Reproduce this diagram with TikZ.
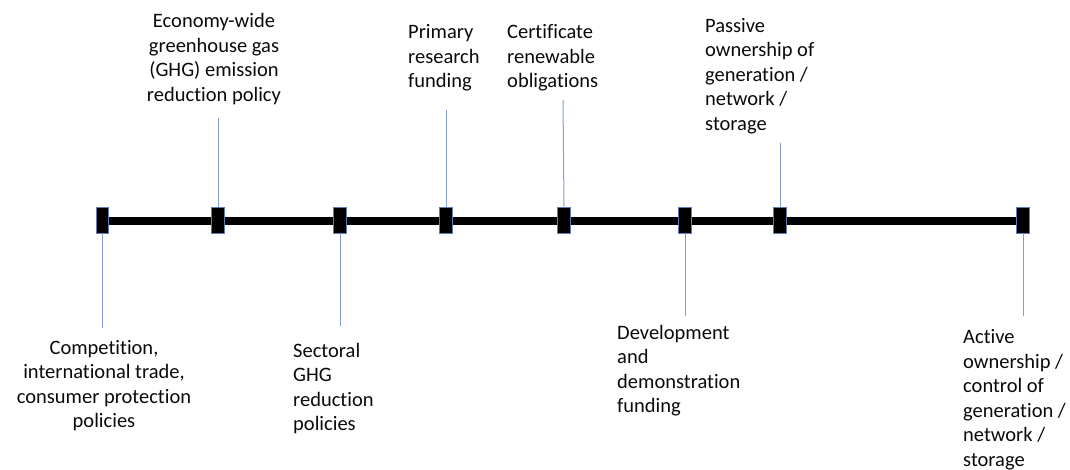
\documentclass[tikz,border=0pt]{standalone}
\usepackage{fontspec}
\setmainfont{Carlito}[Ligatures=NoCommon]
\definecolor{tickedge}{RGB}{96,124,178}
\definecolor{leader}{RGB}{128,158,214}
\definecolor{labeltext}{RGB}{10,10,10}
\begin{document}
\begin{tikzpicture}[x=1pt,y=-1pt,
  tick/.style={rectangle,draw=tickedge,line width=0.9pt,fill=black,
    minimum width=12.5pt,minimum height=26pt,inner sep=0pt},
  leaderline/.style={draw=leader,line width=1pt},
  lbl/.style={font=\fontsize{20.5}{24.5}\selectfont,text=labeltext,inner sep=0pt},
  % base anchor of a multi-line label sits on its last baseline
  lblL/.style={lbl,align=left,anchor=base west},
  lblC/.style={lbl,align=center,anchor=base}]
\useasboundingbox (0,0) rectangle (1070,470);

% timeline axis
\coordinate (axL) at (97,221);
\coordinate (axR) at (1023,221);
\draw[line width=8pt] (axL) -- (axR);

% tick marks along the axis
\node[tick] (t1) at (102.5,220) {};
\node[tick] (t2) at (218,220) {};
\node[tick] (t3) at (340,220) {};
\node[tick] (t4) at (446,220) {};
\node[tick] (t5) at (564,220) {};
\node[tick] (t6) at (685,220) {};
\node[tick] (t7) at (780,220) {};
\node[tick] (t8) at (1023,220) {};

% leader line ends
\coordinate (e1) at (102.5,328);
\coordinate (e2) at (218,118);
\coordinate (e3) at (340,326);
\coordinate (e4) at (446,110);
\coordinate (e5) at (563,100);
\coordinate (e6) at (685,316);
\coordinate (e7) at (780,143);
\coordinate (e8) at (1023,316);

\draw[leaderline] (t1.south) -- (e1);
\draw[leaderline] (t2.north) -- (e2);
\draw[leaderline] (t3.south) -- (e3);
\draw[leaderline] (t4.north) -- (e4);
\draw[leaderline] (t5.north) -- (e5);
\draw[leaderline] (t6.south) -- (e6);
\draw[leaderline] (t7.north) -- (e7);
\draw[leaderline] (t8.south) -- (e8);

% labels
\node[lblC] (l1) at (104,427.5) {Competition,\\international trade,\\consumer protection\\policies};
\node[lblC] (l2) at (214,101.5) {Economy-wide\\greenhouse gas\\(GHG) emission\\reduction policy};
\node[lblL] (l3) at (293,430.5) {Sectoral\\GHG\\reduction\\policies};
\node[lblL] (l4) at (408,88) {Primary\\research\\funding};
\node[lblL] (l5) at (507,88) {Certificate\\renewable\\obligations};
\node[lblL] (l6) at (617,412.5) {Development\\and\\demonstration\\funding};
\node[lblL] (l7) at (705,130.5) {Passive\\ownership of\\generation /\\network /\\storage};
\node[lblL] (l8) at (963,466) {Active\\ownership /\\control of\\generation /\\network /\\storage};
\end{tikzpicture}
\end{document}
